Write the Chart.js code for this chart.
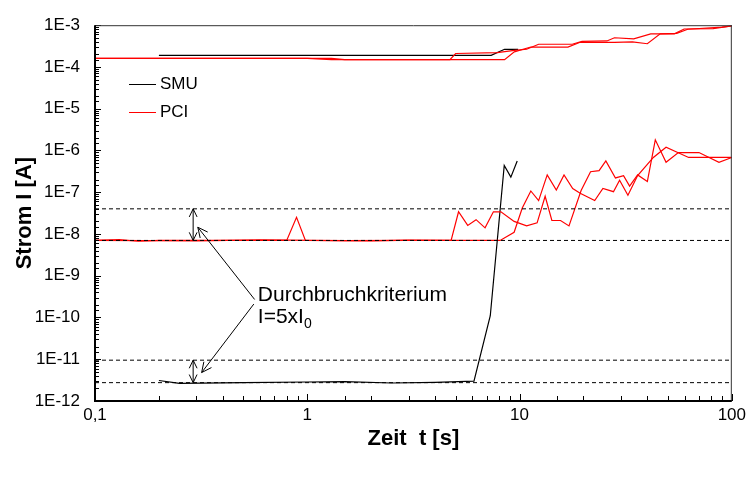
<!DOCTYPE html>
<html>
<head>
<meta charset="utf-8">
<script src="https://cdn.jsdelivr.net/npm/chart.js@4.4.1/dist/chart.umd.min.js"></script>
<style>
  body { margin: 0; background: #fff; }
  #wrap { width: 750px; height: 477px; }
</style>
</head>
<body>
<div id="wrap"><canvas id="chart" width="750" height="477"></canvas></div>
<script>
// time [s] and current [A] values
const smuLowT = [0.2, 0.25, 0.5, 1.0, 1.5, 2.5, 4.0, 6.1, 7.28, 8.47, 9.1, 9.75];
const smuLowI = [3.1e-12, 2.65e-12, 2.75e-12, 2.85e-12, 2.9e-12, 2.7e-12, 2.8e-12, 3.0e-12, 1.1e-10, 4.4e-7, 2.3e-7, 5.6e-7];

const smuHighT = [0.2, 7.35, 8.5, 9.85];
const smuHighI = [1.9e-4, 1.9e-4, 2.65e-4, 2.65e-4];

const pciLow1T = [0.1, 0.13, 0.16, 0.2, 0.8, 0.89, 0.98, 2.0, 3.0, 4.76, 5.16, 5.7, 6.24, 6.88, 7.53, 8.17, 9.43, 10.8, 12.1, 13.2, 14.2, 15.6, 17.1, 19.5, 21.6, 23.7, 25.5, 28.3, 30.9, 33, 36, 40, 43.6, 49, 56, 70, 87, 100];
const pciLow1I = [7e-9, 7.3e-9, 6.7e-9, 7e-9, 7e-9, 2.5e-8, 7e-9, 6.8e-9, 7.1e-9, 7e-9, 3.4e-8, 1.6e-8, 2.2e-8, 1.4e-8, 3.4e-8, 3.4e-8, 2e-8, 1.56e-8, 1.85e-8, 8e-8, 2.1e-8, 2.1e-8, 1.56e-8, 1.1e-7, 3.1e-7, 3.3e-7, 5.6e-7, 2.2e-7, 2.5e-7, 1.4e-7, 2.6e-7, 1.8e-7, 1.8e-6, 5.2e-7, 8.9e-7, 8.9e-7, 5.2e-7, 6.8e-7];

const pciLow2T = [0.1, 0.3, 0.6, 1.5, 3.0, 8.1, 9.43, 10.3, 11.3, 12.3, 13.5, 14.9, 16.2, 17.8, 19.3, 22.6, 24.7, 27.7, 29.6, 32.4, 36, 42.7, 49, 62.6, 78, 100];
const pciLow2I = [7e-9, 6.8e-9, 7.2e-9, 6.9e-9, 7e-9, 7e-9, 1.1e-8, 4.2e-8, 1.07e-7, 6.3e-8, 2.6e-7, 1.13e-7, 2.6e-7, 1.23e-7, 9.4e-8, 6.3e-8, 1.23e-7, 1.03e-7, 1.94e-7, 8.5e-8, 2.5e-7, 6.8e-7, 1.2e-6, 6.8e-7, 6.8e-7, 6.8e-7];

const pciHigh1T = [0.1, 1.3, 1.5, 4.7, 5.0, 7.85, 9.45, 10.8, 12.3, 17.7, 19.7, 25.8, 28, 34.5, 41.5, 53.6, 59.6, 81.6, 100];
const pciHigh1I = [1.6e-4, 1.6e-4, 1.5e-4, 1.5e-4, 2.1e-4, 2.2e-4, 2.5e-4, 2.65e-4, 3.5e-4, 3.5e-4, 4.1e-4, 4.2e-4, 5e-4, 4.7e-4, 6.2e-4, 6.2e-4, 8.1e-4, 8.3e-4, 9.6e-4];

const pciHigh2T = [0.1, 1.0, 1.3, 8.5, 9.45, 11.3, 16.9, 19.3, 28, 34, 40, 46, 55, 62, 90, 100];
const pciHigh2I = [1.6e-4, 1.6e-4, 1.5e-4, 1.5e-4, 2.3e-4, 3e-4, 3e-4, 3.9e-4, 3.9e-4, 4e-4, 3.6e-4, 6.2e-4, 6.4e-4, 8e-4, 9e-4, 9.6e-4];

// breakdown criterion levels (I0 and 5xI0 for both instruments)
const limitLevels = [4e-8, 7e-9, 9.5e-12, 2.75e-12];
const xRange = [0.1, 100];
const yRange = [1e-12, 1e-3];
const xTickText = {'0.1': '0,1', '1': '1', '10': '10', '100': '100'};

function pairs(t, i) {
    return t.map(function (x, k) { return {x: x, y: i[k]}; });
}

function isDecade(v) {
    const e = Math.log10(v);
    return Math.abs(e - Math.round(e)) < 1e-6;
}

function arrowHead(ctx, x1, y1, x2, y2, size) {
    const a = Math.atan2(y2 - y1, x2 - x1);
    ctx.beginPath();
    ctx.moveTo(x2 - size * Math.cos(a - 0.45), y2 - size * Math.sin(a - 0.45));
    ctx.lineTo(x2, y2);
    ctx.lineTo(x2 - size * Math.cos(a + 0.45), y2 - size * Math.sin(a + 0.45));
    ctx.stroke();
}

// frame + inside tick marks
const frameTicks = {
    id: 'frameTicks',
    afterDraw: function (chart) {
        const ctx = chart.ctx;
        const a = chart.chartArea;
        const xs = chart.scales.x, ys = chart.scales.y;
        ctx.save();
        ctx.strokeStyle = '#000';
        ctx.lineWidth = 1;
        ys.ticks.forEach(function (t) {
            const y = Math.round(ys.getPixelForValue(t.value)) + 0.5;
            const len = isDecade(t.value) ? 6 : 4;
            ctx.beginPath(); ctx.moveTo(a.left, y); ctx.lineTo(a.left + len, y); ctx.stroke();
        });
        xs.ticks.forEach(function (t) {
            const x = Math.round(xs.getPixelForValue(t.value)) + 0.5;
            const len = isDecade(t.value) ? 7 : 5;
            ctx.beginPath(); ctx.moveTo(x, a.bottom); ctx.lineTo(x, a.bottom - len); ctx.stroke();
        });
        ctx.strokeStyle = '#333';
        ctx.beginPath(); ctx.moveTo(a.left, a.top + 0.5); ctx.lineTo(a.right, a.top + 0.5); ctx.stroke();
        ctx.beginPath(); ctx.moveTo(a.right - 0.5, a.top); ctx.lineTo(a.right - 0.5, a.bottom); ctx.stroke();
        ctx.strokeStyle = '#000';
        ctx.lineWidth = 2;
        ctx.beginPath(); ctx.moveTo(a.left, a.top); ctx.lineTo(a.left, a.bottom); ctx.lineTo(a.right, a.bottom); ctx.stroke();
        ctx.restore();
    }
};

// legend inside the plot + breakdown annotation
const notes = {
    id: 'notes',
    afterDatasetsDraw: function (chart) {
        const ctx = chart.ctx;
        const xs = chart.scales.x, ys = chart.scales.y;
        ctx.save();
        ctx.lineWidth = 1;

        // legend
        ctx.font = '17px Arial, "Liberation Sans"';
        ctx.textBaseline = 'middle';
        ctx.fillStyle = '#000';
        [['SMU', '#000', 84], ['PCI', '#ff0000', 112]].forEach(function (e) {
            ctx.strokeStyle = e[1];
            ctx.beginPath(); ctx.moveTo(129, e[2] + 0.5); ctx.lineTo(156, e[2] + 0.5); ctx.stroke();
            ctx.fillText(e[0], 160, e[2]);
        });

        // double arrows between I0 and 5xI0
        ctx.strokeStyle = '#000';
        const ax = xs.getPixelForValue(0.29);
        [[limitLevels[0], limitLevels[1]], [limitLevels[2], limitLevels[3]]].forEach(function (p) {
            const y1 = ys.getPixelForValue(p[0]), y2 = ys.getPixelForValue(p[1]);
            ctx.beginPath(); ctx.moveTo(ax, y1); ctx.lineTo(ax, y2); ctx.stroke();
            arrowHead(ctx, ax, y2, ax, y1, 9);
            arrowHead(ctx, ax, y1, ax, y2, 9);
        });

        // pointer arrows
        const s1x = xs.getPixelForValue(0.565), s1y = ys.getPixelForValue(2.7e-10);
        const e1x = xs.getPixelForValue(0.305), e1y = ys.getPixelForValue(1.45e-8);
        const s2x = xs.getPixelForValue(0.56), s2y = ys.getPixelForValue(2.1e-10);
        const e2x = xs.getPixelForValue(0.318), e2y = ys.getPixelForValue(4.8e-12);
        ctx.beginPath(); ctx.moveTo(s1x, s1y); ctx.lineTo(e1x, e1y); ctx.stroke();
        arrowHead(ctx, s1x, s1y, e1x, e1y, 11);
        ctx.beginPath(); ctx.moveTo(s2x, s2y); ctx.lineTo(e2x, e2y); ctx.stroke();
        arrowHead(ctx, s2x, s2y, e2x, e2y, 11);

        // label
        const tx = xs.getPixelForValue(0.585), ty = ys.getPixelForValue(2.5e-10);
        ctx.textBaseline = 'alphabetic';
        ctx.font = '21px Arial, "Liberation Sans"';
        ctx.fillText('Durchbruchkriterium', tx, ty);
        ctx.fillText('I=5xI', tx, ty + 22);
        const w = ctx.measureText('I=5xI').width;
        ctx.font = '14px Arial, "Liberation Sans"';
        ctx.fillText('0', tx + w, ty + 27);
        ctx.restore();
    }
};

document.addEventListener('DOMContentLoaded', function () {
    const red = '#ff0000';
    const line = function (data, color) {
        return {data: data, borderColor: color, backgroundColor: color, borderWidth: 1.2, pointRadius: 0, showLine: true, tension: 0};
    };
    const datasets = [
        line(pairs(pciLow1T, pciLow1I), red),
        line(pairs(pciLow2T, pciLow2I), red),
        line(pairs(pciHigh1T, pciHigh1I), red),
        line(pairs(pciHigh2T, pciHigh2I), red),
        line(pairs(smuLowT, smuLowI), '#000'),
        line(pairs(smuHighT, smuHighI), '#000')
    ];
    limitLevels.forEach(function (v) {
        const d = line(pairs(xRange, [v, v]), '#000');
        d.borderWidth = 1;
        d.borderDash = [4, 3];
        datasets.unshift(d);
    });

    new Chart(document.getElementById('chart'), {
        type: 'scatter',
        data: {datasets: datasets},
        plugins: [frameTicks, notes],
        options: {
            responsive: false,
            animation: false,
            devicePixelRatio: 1,
            layout: {padding: {top: 16, right: 17, left: 0, bottom: 0}},
            plugins: {legend: {display: false}, tooltip: {enabled: false}},
            scales: {
                x: {
                    type: 'logarithmic',
                    min: xRange[0],
                    max: xRange[1],
                    grid: {display: false, drawTicks: false},
                    border: {display: false},
                    afterFit: function (s) { s.height = 76; },
                    ticks: {
                        autoSkip: false,
                        maxRotation: 0,
                        padding: 4,
                        color: '#000',
                        font: {family: 'Arial, "Liberation Sans"', size: 17},
                        callback: function (v) {
                            return isDecade(v) ? (xTickText[String(Math.pow(10, Math.round(Math.log10(v))))] || '') : '';
                        }
                    },
                    title: {
                        display: true,
                        text: 'Zeit  t [s]',
                        color: '#000',
                        font: {family: 'Arial, "Liberation Sans"', size: 22, weight: 'bold'},
                        padding: {top: 0, bottom: 25}
                    }
                },
                y: {
                    type: 'logarithmic',
                    min: yRange[0],
                    max: yRange[1],
                    grid: {display: false, drawTicks: false},
                    border: {display: false},
                    afterFit: function (s) { s.width = 95; },
                    ticks: {
                        autoSkip: false,
                        padding: 15,
                        color: '#000',
                        font: {family: 'Arial, "Liberation Sans"', size: 17},
                        callback: function (v) {
                            return isDecade(v) ? '1E' + Math.round(Math.log10(v)) : '';
                        }
                    },
                    title: {
                        display: true,
                        text: 'Strom I [A]',
                        color: '#000',
                        font: {family: 'Arial, "Liberation Sans"', size: 22, weight: 'bold'},
                        padding: {top: 12, bottom: 0}
                    }
                }
            }
        }
    });
});
</script>
</body>
</html>
